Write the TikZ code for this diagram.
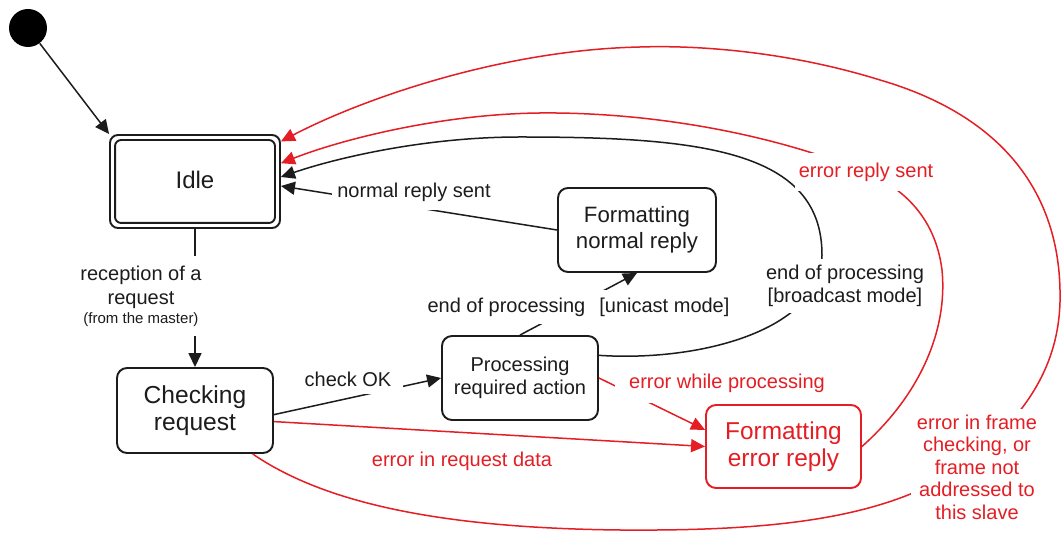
\documentclass[tikz,border=0pt]{standalone}
\usepackage{fontspec}
\setmainfont{Liberation Sans}
\usetikzlibrary{arrows.meta}
\definecolor{errred}{RGB}{228,30,36}
\definecolor{ink}{RGB}{28,28,28}
\begin{document}
\begin{tikzpicture}[x=0.5pt,y=-0.5pt,
  state/.style={draw=ink, line width=0.95pt, rounded corners=5pt, inner sep=0pt, align=center, text=ink},
  errstate/.style={state, draw=errred, text=errred},
  conn/.style={draw=ink, line width=0.75pt, -{Triangle[length=7pt,width=6.5pt]}},
  errconn/.style={conn, draw=errred},
  lbl/.style={fill=white, font=\fontsize{10}{11.5}\selectfont, align=center, inner sep=1.5pt, text=ink},
  errlbl/.style={lbl, text=errred},
]
\useasboundingbox (0,0) rectangle (1061,549);
\fill[white] (0,0) rectangle (1061,549);

% states
\node[circle, fill=black, minimum size=19pt, inner sep=0pt] (init) at (28,28) {};
\node[state, minimum width=85pt, minimum height=46.5pt, rounded corners=4pt,
      font=\fontsize{12}{14}\selectfont] (idle) at (195,181.5) {\raisebox{1.5pt}{Idle}};
\draw[draw=ink, line width=0.95pt, rounded corners=3pt]
  ([shift={(6,6)}]idle.north west) rectangle ([shift={(-6,-6)}]idle.south east);
\node[state, minimum width=78pt, minimum height=42.5pt,
      font=\fontsize{12.3}{13.3}\selectfont] (check) at (195,410.5) {Checking\\request};
\node[state, minimum width=78pt, minimum height=42pt,
      font=\fontsize{10}{11.5}\selectfont] (proc) at (520,378) {Processing\\required action};
\node[state, minimum width=79pt, minimum height=42pt,
      font=\fontsize{11.1}{12.75}\selectfont] (fnorm) at (637,230) {Formatting\\normal reply};
\node[errstate, minimum width=77.5pt, minimum height=41.5pt,
      font=\fontsize{12.2}{13.7}\selectfont] (ferr) at (783.5,446.5) {Formatting\\error reply};

% normal transitions
\draw[conn] (init) -- (idle.north west);
\draw[conn] (idle.south) -- (check.north);
\draw[conn] (check.-3) -- (proc.west);
\draw[conn] (proc.north) -- (fnorm.south);
\draw[conn] (fnorm.west) -- (idle.-3);
\draw[conn] (proc.16) .. controls (700,362) and (822,330) .. (822,255)
  .. controls (822,150) and (700,137) .. (520,137)
  .. controls (420,137) and (330,160) .. (idle.3);

% error transitions
\draw[errconn] (check.-8) -- (ferr.west);
\draw[errconn] (proc.east) -- (ferr.168);
\draw[errconn] (ferr.east) .. controls (920,395) and (948,330) .. (942,270)
  .. controls (935,215) and (900,185) .. (860,170)
  .. controls (760,130) and (640,112) .. (540,113)
  .. controls (440,114) and (340,140) .. (idle.12);
\draw[errconn] (check.-37.7) .. controls (320,500) and (430,528) .. (620,530)
  .. controls (760,531) and (880,522) .. (960,468)
  .. controls (1030,415) and (1062,360) .. (1060,290)
  .. controls (1058,190) and (1000,115) .. (880,80)
  .. controls (790,52) and (700,45) .. (640,47)
  .. controls (500,50) and (360,100) .. (idle.25);

% transition labels
\node[lbl, inner ysep=5pt, font=\fontsize{10}{12}\selectfont] (lrec) at (141,296)
  {reception of a\\request\\[-2.5pt]{\fontsize{7.5}{9}\selectfont (from the master)}};
\node[lbl, inner xsep=6pt, inner ysep=4pt] (lcheck) at (348,379) {check OK};
\node[lbl, inner xsep=2.5pt, inner ysep=4.5pt] (lnorm) at (414,192) {normal reply sent};
\node[lbl, inner ysep=4pt] (luni) at (578.5,307) {end of processing\hspace{7pt}[unicast mode]};
\node[lbl, inner sep=3pt] (lbroad) at (845,286) {end of processing\\{[broadcast mode]}};
\node[errlbl, inner xsep=7pt, inner ysep=5.5pt] (lwhile) at (727,383) {error while processing};
\node[errlbl] (lreq) at (462,461) {error in request data};
\node[errlbl, inner xsep=2pt, inner ysep=5pt] (lsent) at (866,172) {error reply sent};
\node[errlbl, font=\fontsize{10}{11.25}\selectfont, inner sep=3pt] (lframe) at (977,467)
  {error in frame\\checking, or\\frame not\\addressed to\\this slave};
\end{tikzpicture}
\end{document}
